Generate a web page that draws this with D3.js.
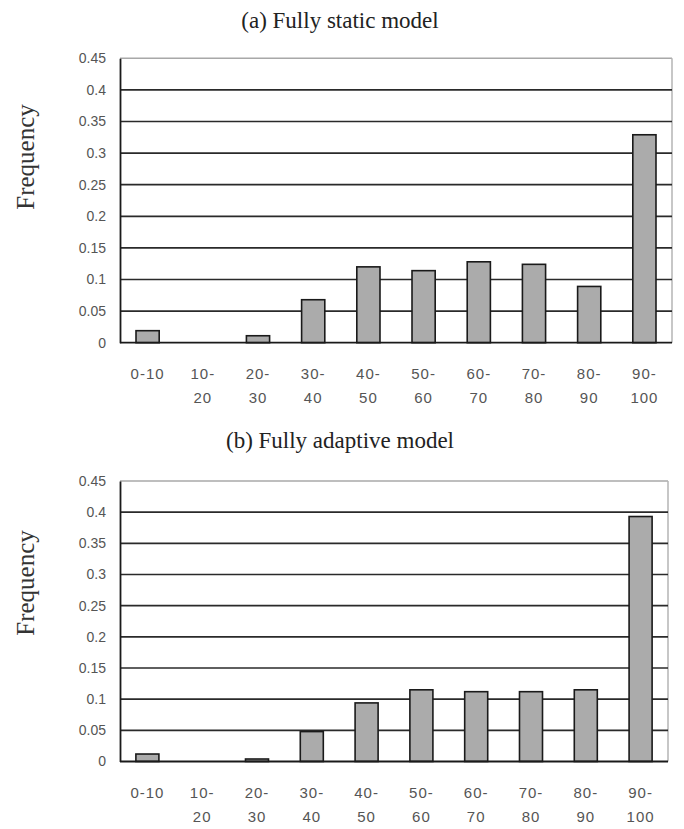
<!DOCTYPE html>
<html>
<head>
<meta charset="utf-8">
<script src="https://cdn.jsdelivr.net/npm/d3@7"></script>
<style>
  body { margin: 0; background: #fff; }
  svg { display: block; }
</style>
</head>
<body>
<div id="chart"></div>
<script>
// --- Data ---
const categories = ["0-10", "10-20", "20-30", "30-40", "40-50", "50-60", "60-70", "70-80", "80-90", "90-100"];
const labelTop = ["0-10", "10-", "20-", "30-", "40-", "50-", "60-", "70-", "80-", "90-"];
const labelBottom = ["", "20", "30", "40", "50", "60", "70", "80", "90", "100"];
const staticFreq = [0.019, 0, 0.011, 0.068, 0.120, 0.114, 0.128, 0.124, 0.089, 0.329];
const adaptiveFreq = [0.012, 0, 0.004, 0.048, 0.094, 0.115, 0.112, 0.112, 0.115, 0.393];
const yTickValues = [0, 0.05, 0.1, 0.15, 0.2, 0.25, 0.3, 0.35, 0.4, 0.45];
const yTickLabels = ["0", "0.05", "0.1", "0.15", "0.2", "0.25", "0.3", "0.35", "0.4", "0.45"];

const width = 684, height = 829;

const svg = d3.select("#chart").append("svg")
    .attr("width", width)
    .attr("height", height);

function drawPanel(cfg) {
    const x = d3.scaleBand()
        .domain(categories)
        .range([cfg.left, cfg.right])
        .paddingInner(0.58)
        .paddingOuter(0.29);
    const y = d3.scaleLinear().domain([0, 0.45]).range([cfg.bottom, cfg.top]);

    const g = svg.append("g");

    // title
    g.append("text")
        .attr("x", 340)
        .attr("y", cfg.titleY)
        .attr("text-anchor", "middle")
        .style("font-family", "'Liberation Serif', 'Times New Roman', serif")
        .style("font-size", "23px")
        .style("fill", "#222")
        .text(cfg.title);

    // y label
    g.append("text")
        .attr("transform", `translate(34, ${cfg.labelY}) rotate(-90)`)
        .attr("text-anchor", "middle")
        .style("font-family", "'Liberation Serif', 'Times New Roman', serif")
        .style("font-size", "25px")
        .style("fill", "#333")
        .text("Frequency");

    // top border and right border (light)
    g.append("line")
        .attr("x1", cfg.left).attr("x2", cfg.right)
        .attr("y1", y(0.45)).attr("y2", y(0.45))
        .attr("stroke", "#a8a8a8").attr("stroke-width", 1.5);
    g.append("line")
        .attr("x1", cfg.right).attr("x2", cfg.right)
        .attr("y1", y(0.45)).attr("y2", y(0))
        .attr("stroke", "#b5b5b5").attr("stroke-width", 1.5);

    // gridlines
    g.selectAll(".grid")
        .data(yTickValues.filter(v => v > 0 && v < 0.45))
        .enter().append("line")
        .attr("x1", cfg.left).attr("x2", cfg.right)
        .attr("y1", d => y(d)).attr("y2", d => y(d))
        .attr("stroke", "#2a2a2a").attr("stroke-width", 1.7);

    // bars
    g.selectAll(".bar")
        .data(cfg.values)
        .enter().append("rect")
        .attr("x", (d, i) => x(categories[i]))
        .attr("y", d => y(d))
        .attr("width", x.bandwidth())
        .attr("height", d => y(0) - y(d))
        .attr("fill", "#ababab")
        .attr("stroke", d => d > 0 ? "#1a1a1a" : "none")
        .attr("stroke-width", 1.6);

    // left axis with tick labels
    const yAxis = g.append("g")
        .attr("transform", `translate(${cfg.left},0)`)
        .call(d3.axisLeft(y).tickValues(yTickValues)
            .tickFormat((d, i) => yTickLabels[i])
            .tickSize(0).tickPadding(14));
    yAxis.select(".domain")
        .attr("stroke", "#1a1a1a").attr("stroke-width", 1.8);
    yAxis.selectAll("text")
        .style("font-family", "'Liberation Sans', Arial, sans-serif")
        .style("font-size", "14px")
        .style("fill", "#555");

    // bottom axis line
    g.append("line")
        .attr("x1", cfg.left).attr("x2", cfg.right)
        .attr("y1", y(0)).attr("y2", y(0))
        .attr("stroke", "#1a1a1a").attr("stroke-width", 1.8);

    // x labels (two lines)
    const xl = g.selectAll(".xlab")
        .data(categories)
        .enter().append("text")
        .attr("text-anchor", "middle")
        .style("font-family", "'Liberation Sans', Arial, sans-serif")
        .style("font-size", "15px")
        .style("letter-spacing", "1px")
        .style("fill", "#555");
    xl.append("tspan")
        .attr("x", d => x(d) + x.bandwidth() / 2)
        .attr("y", y(0) + 36)
        .text((d, i) => labelTop[i]);
    xl.append("tspan")
        .attr("x", d => x(d) + x.bandwidth() / 2)
        .attr("y", y(0) + 60)
        .text((d, i) => labelBottom[i]);
}

drawPanel({
    title: "(a) Fully static model", titleY: 28,
    values: staticFreq,
    left: 120, right: 672, top: 58.3, bottom: 342.7,
    labelY: 157
});

drawPanel({
    title: "(b) Fully adaptive model", titleY: 448,
    values: adaptiveFreq,
    left: 120, right: 668, top: 481, bottom: 761.5,
    labelY: 583
});
</script>
</body>
</html>
